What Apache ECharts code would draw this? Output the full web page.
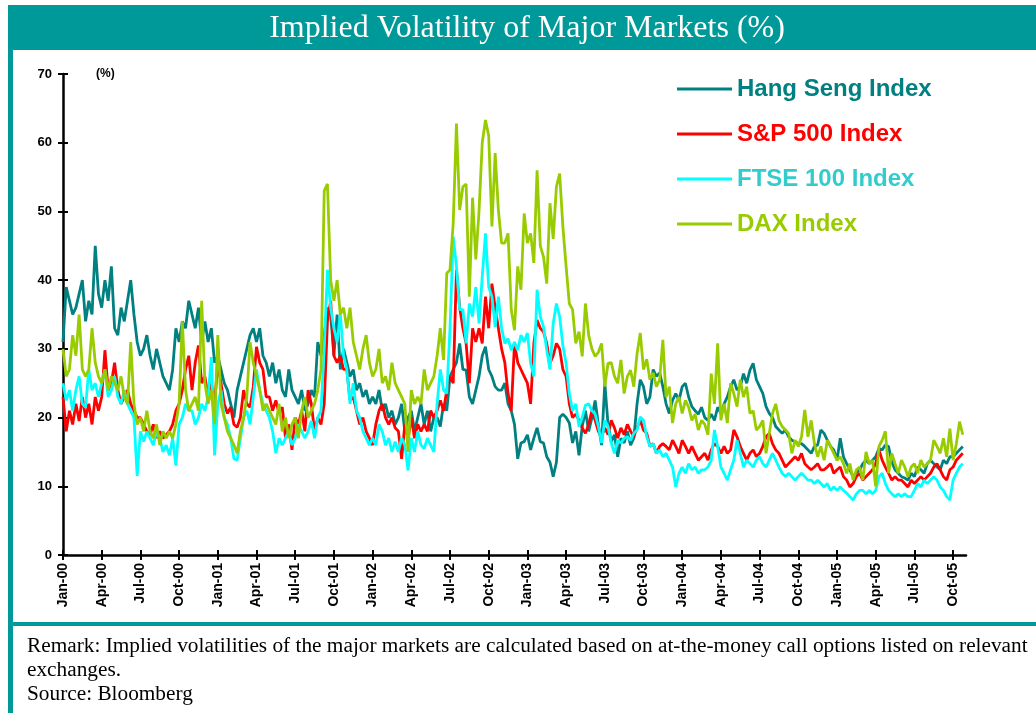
<!DOCTYPE html>
<html>
<head>
<meta charset="utf-8">
<title>Implied Volatility of Major Markets</title>
<script src="https://cdn.jsdelivr.net/npm/echarts@6/dist/echarts.min.js"></script>
<style>
  html, body { margin: 0; padding: 0; background: #fff; }
  #chart { width: 1036px; height: 713px; }
</style>
</head>
<body>
<div id="chart"></div>
<script>
  // quarter tick labels, one every 3 months from Jan-00
  const quarterLabels = [
    'Jan-00', 'Apr-00', 'Jul-00', 'Oct-00', 'Jan-01', 'Apr-01', 'Jul-01', 'Oct-01',
    'Jan-02', 'Apr-02', 'Jul-02', 'Oct-02', 'Jan-03', 'Apr-03', 'Jul-03', 'Oct-03',
    'Jan-04', 'Apr-04', 'Jul-04', 'Oct-04', 'Jan-05', 'Apr-05', 'Jul-05', 'Oct-05'
  ];
  // values, 4 readings per month starting Jan 2000
  const stepMonths = 0.25;

  const hangSeng = [
    // 2000
    31, 39, 37, 35, 36, 38, 40, 34, 37, 35, 45, 38, 36, 40, 37, 42, 33, 32, 36, 34, 37, 40, 35, 31,
    29, 30, 32, 29, 27, 30, 28, 26, 25, 24, 27, 33, 31, 34, 33, 37, 35, 33, 36, 31, 34, 31, 33, 28,
    // 2001
    29, 27, 25, 24, 22, 20, 24, 26, 28, 30, 32, 33, 31, 33, 29, 28, 26, 28, 25, 27, 24, 23, 27, 24,
    23, 22, 24, 21, 22, 24, 23, 31, 29, 32, 36, 35, 29, 35, 27, 30, 28, 26, 27, 24, 25, 23, 24, 22,
    // 2002
    23, 22, 24, 21, 22, 20, 21, 19, 20, 22, 18, 20, 21, 18, 20, 22, 19, 21, 18, 20, 20, 18.7, 22, 21,
    26, 27, 28, 30.8, 27, 26.9, 23, 22, 24, 26, 29, 30.3, 27, 26, 24.5, 24, 24, 25, 22, 21, 19, 14, 16.3, 16.5,
    // 2003
    17.5, 15.3, 17, 18.5, 16.5, 16.3, 14.3, 13.5, 11.4, 13.5, 20, 20.5, 20, 19.2, 16.3, 18, 14.5, 18.7, 21, 18, 20, 22.5, 19, 16,
    25, 19, 16.5, 17.5, 14.3, 17, 16.3, 18, 16, 17, 22, 25.5, 24.5, 22, 23, 27, 26, 26.5, 24.5, 22, 20.6, 22.5, 23.5, 22.5,
    // 2004
    24.5, 25, 23, 21.6, 21, 20.5, 21.5, 20, 19.6, 20.5, 19.6, 21.5, 20.6, 22, 23, 24.5, 25.5, 24, 24.5, 26.4, 25, 26.9, 27.9, 25.5,
    24.5, 23.5, 21.6, 20.6, 20, 18.7, 18.2, 17.7, 18.2, 17.2, 16.7, 16.5, 16.2, 16.2, 15.8, 15.3, 14.8, 15.8, 16, 18.2, 17.7, 16.7, 15.8, 15.3,
    // 2005
    13.8, 17, 14.3, 13.3, 12.4, 11.4, 12, 12.4, 13.3, 13.8, 13.3, 13.8, 14.3, 15.5, 15.3, 16, 15.8, 13.5, 12.4, 11.9,
    11.4, 11.2, 10.9, 11.9, 11.4, 12.8, 12.4, 11.9, 13.3, 13.8, 13.3, 12.8, 12.4, 13.8, 13.3, 14.3, 14.3, 14.8, 15.3, 15.8
  ];

  const sp500 = [
    // 2000
    23, 18, 21, 19, 22, 19.5, 23, 20, 22, 19, 23, 21, 23, 29.8, 24, 25, 28, 24, 22, 23, 24, 22, 21, 20,
    20, 19, 18, 17.5, 19, 17, 18, 17, 17.5, 18, 19, 21, 22, 24, 27, 29, 24, 28, 30.5, 25, 26, 23, 25, 22,
    // 2001
    28, 25, 22, 20.6, 21.5, 19, 18.6, 20, 24, 22, 21.5, 24.5, 30.3, 28, 27, 23, 23, 21, 22.5, 20.6, 21.5, 17, 19, 15.3,
    20, 19, 21, 18, 24, 22, 18, 20, 19, 22, 34, 37, 29, 28, 29, 27, 27, 22.5, 23, 21, 19, 20, 18, 17,
    // 2002
    16, 19, 21, 22, 20, 19, 20, 18.5, 18, 14, 19, 17, 20, 17, 19, 18, 19, 18, 21, 20, 21, 22.5, 21, 24,
    26, 25, 41.5, 36, 33, 30.8, 25, 33, 31, 33, 30.8, 37.6, 33, 39.5, 36, 33, 30, 28, 23.5, 21, 30.8, 28, 27, 26,
    // 2003
    25, 22, 30.8, 34.2, 33, 32.5, 30.8, 27.9, 29, 30.8, 30, 27, 26, 22, 20, 20.5, 19.6, 18.5, 17.7, 19, 21, 19.6, 18, 17.2,
    18.5, 17.5, 19.6, 18.5, 17, 18.5, 17.5, 19, 18, 17.2, 18.5, 19.6, 18.2, 17.7, 15.8, 16.2, 14.8, 15.8, 16.2, 15.8, 15.3, 16.7, 15.8, 14.8,
    // 2004
    16.7, 15.8, 14.8, 15.8, 14.8, 13.8, 14.3, 14.8, 13.8, 15.3, 16.2, 15.8, 14.8, 15.8, 14.8, 15.3, 18.2, 17.2, 15.8, 14.8, 13.8, 14.8, 15.3, 14.3,
    14.8, 15.8, 17.2, 17.7, 16.2, 15.3, 14.8, 13.8, 12.8, 13.3, 13.8, 14.3, 13.8, 14.8, 13.3, 12.8, 12.4, 12.8, 13.3, 12.4, 12.4, 12.8, 13.3, 11.9,
    // 2005
    12.4, 12.8, 11.4, 10.9, 9.9, 10.4, 11.4, 11.9, 10.9, 11.4, 11.9, 12.4, 13.3, 15.3, 13.8, 12.8, 11.9, 10.9, 11.4, 10.9,
    10.9, 10.4, 9.9, 10.9, 10.4, 10.9, 11.4, 10.9, 11.4, 11.9, 12.8, 13.3, 12.4, 11.4, 10.9, 12.4, 12.8, 13.8, 14.3, 14.8
  ];

  const ftse100 = [
    // 2000
    25, 22.5, 24, 21, 24, 26, 22, 21.5, 27, 24, 25, 23, 25, 27, 23, 24, 26, 23, 22, 24, 22, 21, 20, 11.5,
    18, 16.5, 18, 17, 16, 18, 17, 15, 16, 14.5, 17, 13, 19, 20, 22, 21, 21, 19, 20, 22, 21, 23, 28.8, 14.5,
    // 2001
    22, 24, 20, 19, 17, 14, 13.8, 17, 20, 21, 19, 23, 27, 24, 22, 21, 20, 18, 14.8, 17, 16, 17, 18, 16,
    17, 19, 18, 17, 18, 19.5, 17, 20, 21, 30, 41.5, 36, 33, 31, 35, 29, 27, 22, 25, 21, 20, 18, 17, 16,
    // 2002
    17, 16, 19, 18, 16, 17, 15, 16.5, 15, 17, 16, 12.3, 17, 15, 18, 16, 15.5, 17, 16, 15, 22, 27, 24, 23.5,
    33, 46.3, 42, 35.7, 35.7, 30.8, 36.6, 34.7, 39, 33.7, 40.5, 46.8, 39, 37.6, 33.2, 37.6, 33, 30.8, 31.5, 29.8, 31, 29.8, 32, 31,
    // 2003
    32.3, 27.9, 26, 38.6, 34.7, 33.2, 29.8, 27, 33.7, 36.6, 34.7, 30.5, 27.9, 23.5, 21, 22, 18.7, 20, 21.8, 22, 21, 20.5, 18.7, 16.3,
    19.6, 18.7, 16.3, 14.8, 16.7, 16.3, 17, 17.2, 16.7, 17.7, 18.2, 20.1, 19.6, 17.2, 15.8, 16.2, 14.8, 15.3, 14.3, 14.8, 13.8, 12.8, 9.9, 11.9,
    // 2004
    12.8, 11.9, 13.3, 12.4, 12.8, 11.9, 12.4, 12.4, 12.8, 13.8, 18.2, 15.8, 12.8, 11.9, 10.9, 12.4, 13.8, 16.7, 14.8, 12.8, 13.8, 13.3, 12.8, 13.8,
    14.3, 13.3, 12.8, 13.8, 14.8, 13.8, 12.8, 11.9, 11.4, 11.9, 11.4, 10.9, 11.4, 11.9, 11.4, 10.9, 10.9, 10.4, 10.9, 10.4, 9.9, 10.4, 9.4, 9.9,
    // 2005
    9.4, 9.9, 9.4, 9, 8.5, 8, 8.9, 9.4, 9.4, 8.9, 9.4, 8.9, 9.4, 11.4, 11.9, 10.4, 9.4, 8.9, 8.5, 8.9,
    8.5, 8.9, 8.5, 8.5, 9.4, 10.4, 9.9, 10.9, 10.4, 10.9, 11.4, 10.9, 9.9, 9.4, 8.5, 8, 10.9, 11.9, 12.8, 13.3
  ];

  const dax = [
    // 2000
    30, 26, 27, 32, 29, 35, 27, 26, 27, 33, 28, 26, 25, 27, 24, 26, 25, 24, 26, 23, 22, 31, 22, 19,
    20, 18, 21, 18, 17, 19, 16, 18, 17, 18, 17, 19, 22, 34, 24, 21, 22, 23, 21, 37, 25, 22, 24, 19,
    // 2001
    32, 22, 20, 18, 17, 16, 14.8, 18, 20, 23, 31, 28, 26, 24, 21, 22, 21, 20, 19, 22, 18, 20, 17, 19,
    20, 17, 21, 23, 20, 21, 22, 24, 27, 53, 54, 40, 37, 40, 35, 36, 33, 36, 31, 29, 27, 30, 32, 28,
    // 2002
    26, 27, 30, 25, 26, 24, 28, 25, 24, 23, 22, 15, 24, 22, 23, 22, 27, 24, 25, 26, 29, 33, 28.4, 41,
    41.5, 48.3, 62.8, 50.2, 53.6, 54, 37.6, 52, 43, 50, 60, 63.3, 61, 47.8, 58.5, 50.2, 45.4, 45.4, 46.8, 35.7, 32.7, 42, 38.6, 49.7,
    // 2003
    45.4, 46.8, 42.5, 56, 45, 43.4, 39.5, 51.2, 46, 53.6, 55.5, 47.8, 42, 36.6, 35.7, 30.8, 32.5, 28.9, 36.6, 32, 30, 28.9, 29.5, 30.8,
    24.5, 27.9, 28, 26, 25, 28.4, 23.5, 26, 26.9, 24.5, 29.3, 32.3, 27, 28.5, 25.5, 26.5, 24.5, 25.5, 31.3, 23, 24.5, 19.2, 22, 23,
    // 2004
    20.6, 22.5, 21.5, 19.6, 20.5, 18.2, 19.6, 19, 17.5, 26.4, 22, 30.8, 19.6, 22, 19.2, 25, 23.5, 21.6, 25.5, 23, 24.5, 20.6, 21, 18.2,
    18.7, 19.6, 14.8, 17.7, 20.6, 22, 19.6, 18.7, 18.2, 17.7, 14.8, 16.7, 15.8, 17.2, 21.1, 17.2, 19.6, 16.2, 14.3, 15.8, 13.8, 16.7, 15.8, 14.8,
    // 2005
    13.8, 14.3, 13.3, 11.9, 13.3, 10.9, 12.4, 12.8, 10.9, 15, 13.3, 13.8, 10, 15.8, 16.7, 18, 11.9, 14.8, 13.3, 11.9,
    13.8, 12.8, 11.4, 12.8, 13.3, 11.9, 13.8, 12.8, 13.3, 13.8, 16.7, 15.8, 14.8, 17, 14.3, 18.4, 13.8, 16.2, 19.4, 17.5
  ];

  const seriesNames = ['Hang Seng Index', 'S&P 500 Index', 'FTSE 100 Index', 'DAX Index'];
  const lineColors = ['#008080', '#ff0000', '#00ffff', '#99cc00'];
  const legendColors = ['#008080', '#ff0000', '#33cccc', '#99cc00'];

  const tickValues = quarterLabels.map((_, i) => i * 3);
  const toPoints = arr => arr.map((v, i) => [i * stepMonths, v]);

  const chart = echarts.init(document.getElementById('chart'), null, { renderer: 'canvas' });

  const sans = 'Liberation Sans, Arial, sans-serif';
  const serif = 'Liberation Serif, Times New Roman, serif';
  const teal = '#009999';

  chart.setOption({
    animation: false,
    backgroundColor: '#fff',
    grid: { left: 63, right: 70, top: 74, bottom: 158 },
    legend: {
      orient: 'vertical',
      left: 672,
      top: 72,
      itemWidth: 55,
      itemHeight: 3,
      itemGap: 21,
      icon: 'rect',
      textStyle: { fontFamily: sans, fontWeight: 'bold', fontSize: 24, lineHeight: 24 },
      data: seriesNames.map((n, i) => ({ name: n, textStyle: { color: legendColors[i] } }))
    },
    xAxis: [{
      type: 'value',
      min: 0,
      max: 70,
      position: 'bottom',
      splitLine: { show: false },
      axisLine: { lineStyle: { color: '#000', width: 2.5 } },
      axisTick: { length: 5, lineStyle: { color: '#000', width: 2 }, customValues: tickValues },
      axisLabel: {
        customValues: tickValues,
        rotate: 90,
        margin: 8,
        color: '#000',
        fontFamily: sans,
        fontWeight: 'bold',
        fontSize: 14,
        formatter: v => quarterLabels[Math.round(v / 3)] || ''
      }
    }, {
      // inner half of the crossing tick marks
      type: 'value',
      min: 0,
      max: 70,
      position: 'bottom',
      splitLine: { show: false },
      axisLine: { show: false },
      axisLabel: { show: false },
      axisTick: { inside: true, length: 5, lineStyle: { color: '#000', width: 2 }, customValues: tickValues }
    }],
    yAxis: [{
      type: 'value',
      min: 0,
      max: 70,
      interval: 10,
      position: 'left',
      splitLine: { show: false },
      axisLine: { show: true, lineStyle: { color: '#000', width: 2.5 } },
      axisTick: { show: true, length: 5, lineStyle: { color: '#000', width: 2 } },
      axisLabel: { margin: 11, color: '#000', fontFamily: sans, fontWeight: 'bold', fontSize: 13 }
    }, {
      type: 'value',
      min: 0,
      max: 70,
      interval: 10,
      position: 'left',
      splitLine: { show: false },
      axisLine: { show: false },
      axisLabel: { show: false },
      axisTick: { show: true, inside: true, length: 5, lineStyle: { color: '#000', width: 2 } }
    }],
    series: [hangSeng, sp500, ftse100, dax].map((arr, i) => ({
      name: seriesNames[i],
      type: 'line',
      xAxisIndex: 0,
      yAxisIndex: 0,
      showSymbol: false,
      symbol: 'none',
      color: lineColors[i],
      lineStyle: { color: lineColors[i], width: 2.8 },
      data: toPoints(arr)
    })),
    graphic: [
      { type: 'rect', shape: { x: 8, y: 5, width: 1028, height: 45 }, style: { fill: teal } },
      { type: 'rect', shape: { x: 8, y: 50, width: 5, height: 663 }, style: { fill: teal } },
      { type: 'rect', shape: { x: 8, y: 622, width: 1028, height: 4 }, style: { fill: teal } },
      {
        type: 'text', x: 527, y: 29,
        style: {
          text: 'Implied Volatility of Major Markets (%)', fill: '#fff',
          font: '32px ' + serif, textAlign: 'center', textVerticalAlign: 'middle'
        }
      },
      {
        type: 'text', x: 96, y: 74,
        style: { text: '(%)', fill: '#000', font: 'bold 12px ' + sans, textVerticalAlign: 'middle' }
      },
      {
        type: 'text', x: 27, y: 646,
        style: {
          text: 'Remark: Implied volatilities of the major markets are calculated based on at-the-money call options listed on relevant',
          fill: '#000', font: '21.3px ' + serif, textVerticalAlign: 'middle'
        }
      },
      {
        type: 'text', x: 27, y: 670,
        style: { text: 'exchanges.', fill: '#000', font: '21.3px ' + serif, textVerticalAlign: 'middle' }
      },
      {
        type: 'text', x: 27, y: 694,
        style: { text: 'Source: Bloomberg', fill: '#000', font: '21.3px ' + serif, textVerticalAlign: 'middle' }
      }
    ]
  });
</script>
</body>
</html>
